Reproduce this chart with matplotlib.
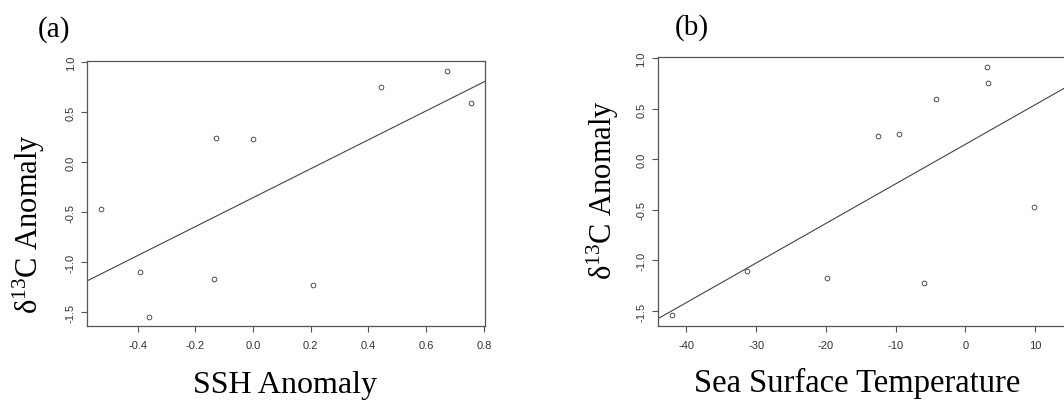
import matplotlib
matplotlib.use("Agg")
import matplotlib.pyplot as plt
import numpy as np

# d13C anomaly with the matching SSH anomaly and sea surface temperature
d13c = [-0.468, -1.10, -1.545, 0.247, -1.174, 0.23, -1.227, 0.752, 0.912, 0.595]
ssh = [-0.528, -0.391, -0.360, -0.130, -0.134, 0.0, 0.208, 0.442, 0.671, 0.755]
sst = [9.8, -31.3, -42.0, -9.47, -19.85, -12.5, -5.93, 3.3, 3.06, -4.2]

ssh_ticks = [-0.4, -0.2, 0.0, 0.2, 0.4, 0.6, 0.8]
sst_ticks = [-40, -30, -20, -10, 0, 10]
y_ticks = [-1.5, -1.0, -0.5, 0.0, 0.5, 1.0]

plt.rcParams["mathtext.default"] = "regular"

W, H = 1064, 402
fig = plt.figure(figsize=(W / 100, H / 100), dpi=100)


def px_axes(left, top, right, bottom):
    return fig.add_axes([left / W, 1 - bottom / H, (right - left) / W, (bottom - top) / H])


def r_style(ax, xt, xl, xlim, ylim):
    ax.set_xticks(xt)
    ax.set_xticklabels(xl)
    ax.set_yticks(y_ticks)
    ax.set_yticklabels(["%.1f" % v for v in y_ticks], rotation=90, va="center")
    ax.set_xlim(*xlim)
    ax.set_ylim(*ylim)
    ax.tick_params(labelsize=8, labelcolor="#333333", color="#555555",
                   length=4, width=0.8, pad=4)
    ax.tick_params(axis="x", pad=6)
    for s in ax.spines.values():
        s.set_color("#555555")
        s.set_linewidth(0.9)
    for lab in ax.get_xticklabels() + ax.get_yticklabels():
        lab.set_family("Liberation Sans")


def scatter_fit(ax, x, y):
    x = np.asarray(x)
    y = np.asarray(y)
    ax.plot(x, y, "o", ms=3.4, mfc="none", mec="#333333", mew=0.6)
    b, a = np.polyfit(x, y, 1)
    xs = np.array(ax.get_xlim())
    ax.plot(xs, a + b * xs, color="#444444", lw=0.8)
    ax.set_xlim(*xs)


# (a) SSH anomaly
ax1 = px_axes(87, 62, 485, 327)
r_style(ax1, ssh_ticks, ["%.1f" % v for v in ssh_ticks], (-0.576, 0.804), (-1.64, 1.013))
scatter_fit(ax1, ssh, d13c)

# (b) sea surface temperature (frame runs off the right edge)
ax2 = px_axes(657.7, 57.7, 1077, 326.7)
r_style(ax2, sst_ticks, [str(v) for v in sst_ticks], (-44.1, 16.0), (-1.646, 1.017))
scatter_fit(ax2, sst, d13c)

serif = "Liberation Serif"
fig.text(54 / W, 1 - 30 / H, "(a)", family=serif, fontsize=21, ha="center", va="center")
fig.text(692 / W, 1 - 28 / H, "(b)", family=serif, fontsize=21, ha="center", va="center")
fig.text(29 / W, 1 - 224 / H, r"δ$^{13}$C Anomaly", family=serif, fontsize=22,
         rotation=90, ha="center", va="center")
fig.text(603 / W, 1 - 190 / H, r"δ$^{13}$C Anomaly", family=serif, fontsize=22,
         rotation=90, ha="center", va="center")
fig.text(285 / W, 1 - 386 / H, "SSH Anomaly", family=serif, fontsize=23,
         ha="center", va="center")
fig.text(857 / W, 1 - 383 / H, "Sea Surface Temperature", family=serif, fontsize=23.5,
         ha="center", va="center")

fig.savefig("out.png", dpi=100)
